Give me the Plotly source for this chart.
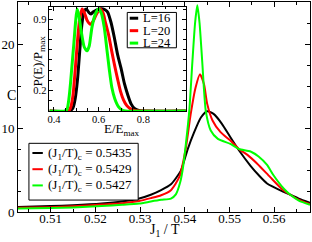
import plotly.graph_objects as go

# ---------------- main panel: specific heat C vs J1/T ----------------
j_l16 = [0.5027, 0.5100, 0.5150, 0.5214, 0.5260, 0.5298, 0.5324, 0.5347, 0.5369, 0.5391,
         0.5406, 0.5421, 0.5436, 0.5450, 0.5465, 0.5483, 0.5502, 0.5521, 0.5547, 0.5565,
         0.5584, 0.5621, 0.5636, 0.5655, 0.5680]
c_l16 = [0.60, 0.70, 0.80, 1.00, 1.25, 1.60, 2.05, 2.60, 3.30, 4.90,
         7.40, 9.50, 11.25, 12.00, 11.65, 10.50, 8.90, 7.35, 5.50, 4.40,
         3.40, 2.40, 2.05, 1.60, 1.10]

j_l20 = [0.5027, 0.5100, 0.5150, 0.5214, 0.5260, 0.5298, 0.5324, 0.5347, 0.5369, 0.5388,
         0.5402, 0.5413, 0.5424, 0.5434, 0.5443, 0.5450, 0.5462, 0.5480, 0.5502, 0.5521,
         0.5540, 0.5562, 0.5591, 0.5617, 0.5636, 0.5655, 0.5680]
c_l20 = [0.50, 0.58, 0.68, 0.88, 1.05, 1.30, 1.65, 2.00, 2.60, 4.20,
         7.50, 11.60, 14.80, 16.40, 15.20, 12.90, 10.90, 9.50, 8.50, 7.50,
         6.80, 5.75, 4.15, 2.75, 2.05, 1.45, 0.95]

j_l24 = [0.5027, 0.5100, 0.5150, 0.5214, 0.5260, 0.5298, 0.5324, 0.5347, 0.5369, 0.5380,
         0.5390, 0.5396, 0.5402, 0.5410, 0.5417, 0.5423, 0.5428, 0.5433, 0.5439, 0.5447,
         0.5458, 0.5474, 0.5502, 0.5521, 0.5547, 0.5565, 0.5584, 0.5598, 0.5621, 0.5636,
         0.5655, 0.5680]
c_l24 = [0.42, 0.48, 0.55, 0.72, 0.85, 1.00, 1.25, 1.45, 1.60, 2.10,
         3.60, 5.30, 7.90, 12.00, 17.90, 22.50, 24.60, 22.50, 17.90, 12.00,
         9.70, 8.70, 8.10, 7.50, 7.20, 6.60, 5.60, 4.40, 2.80, 2.05,
         1.35, 0.85]

main_names = ["(J<sub>1</sub>/T)<sub>c</sub> = 0.5435",
              "(J<sub>1</sub>/T)<sub>c</sub> = 0.5429",
              "(J<sub>1</sub>/T)<sub>c</sub> = 0.5427"]
main_x_ticks = [0.51, 0.52, 0.53, 0.54, 0.55, 0.56]
main_y_ticks = [0, 10, 20]

# ---------------- inset: P(E)/Pmax vs E/Emax ----------------
e_l16 = [0.380, 0.470, 0.485, 0.495, 0.505, 0.515, 0.525, 0.535, 0.545, 0.555,
         0.565, 0.575, 0.590, 0.605, 0.620, 0.630, 0.640, 0.655, 0.670, 0.685,
         0.700, 0.715, 0.730, 0.745, 0.760, 0.780, 0.990]
p_l16 = [0.0, 0.0, 0.03, 0.12, 0.30, 0.58, 0.85, 0.98, 1.00, 0.97,
         0.95, 0.97, 0.99, 1.00, 1.00, 0.99, 0.97, 0.87, 0.72, 0.55,
         0.42, 0.27, 0.16, 0.07, 0.025, 0.005, 0.0]

e_l20 = [0.380, 0.465, 0.474, 0.485, 0.495, 0.505, 0.515, 0.526, 0.535, 0.548,
         0.563, 0.575, 0.590, 0.607, 0.620, 0.629, 0.645, 0.659, 0.672, 0.685,
         0.698, 0.711, 0.725, 0.740, 0.760, 0.990]
p_l20 = [0.0, 0.0, 0.03, 0.15, 0.40, 0.68, 0.90, 1.00, 0.97, 0.89,
         0.85, 0.88, 0.95, 1.00, 0.96, 0.88, 0.74, 0.58, 0.44, 0.31,
         0.19, 0.11, 0.055, 0.025, 0.005, 0.0]

e_l24 = [0.380, 0.450, 0.459, 0.467, 0.474, 0.482, 0.489, 0.497, 0.5035, 0.512,
         0.522, 0.535, 0.548, 0.558, 0.570, 0.585, 0.600, 0.612, 0.625, 0.637,
         0.648, 0.659, 0.672, 0.689, 0.705, 0.720, 0.990]
p_l24 = [0.0, 0.0, 0.02, 0.12, 0.27, 0.48, 0.66, 0.88, 1.00, 0.93,
         0.78, 0.63, 0.59, 0.64, 0.82, 0.95, 1.00, 0.96, 0.82, 0.60,
         0.40, 0.23, 0.12, 0.04, 0.01, 0.0, 0.0]

inset_names = ["L=16", "L=20", "L=24"]
inset_x_ticks = [0.4, 0.6, 0.8]
inset_y_ticks = [0.2, 0.9]

colors = ["#000000", "#ff0000", "#00ff00"]
FONT = "Liberation Serif"

# ---------------- layout geometry (pixels -> paper) ----------------
W, H = 312, 242
ML, MR, MT, MB = 16, 2, 1, 30
PW, PH = W - ML - MR, H - MT - MB


def X(px):
    return (px - ML) / PW


def Y(py):
    return (H - MB - py) / PH


fig = go.Figure()

for jx, cy, col, nm in zip([j_l16, j_l20, j_l24], [c_l16, c_l20, c_l24], colors, main_names):
    fig.add_trace(go.Scatter(x=jx, y=cy, mode="lines", name=nm, showlegend=False,
                             line=dict(color=col, width=2, shape="spline", smoothing=0.6),
                             xaxis="x", yaxis="y"))

for ex, py_, col, nm in zip([e_l16, e_l20, e_l24], [p_l16, p_l20, p_l24], colors, inset_names):
    fig.add_trace(go.Scatter(x=ex, y=py_, mode="lines", name=nm, showlegend=False,
                             line=dict(color=col, width=3, shape="spline", smoothing=0.6),
                             xaxis="x2", yaxis="y2"))

axis_common = dict(showgrid=False, zeroline=False, showline=True, linecolor="black",
                   linewidth=1, mirror="allticks", ticks="inside", tickcolor="black",
                   tickwidth=1)

fig.update_layout(
    width=W, height=H,
    margin=dict(l=ML, r=MR, t=MT, b=MB),
    paper_bgcolor="white", plot_bgcolor="white",
    font=dict(family=FONT, color="black"),
    showlegend=False,
    xaxis=dict(range=[0.5027, 0.568], tickvals=main_x_ticks, tickformat=".2f",
               ticklen=5, ticklabelstandoff=-6,
               tickfont=dict(family=FONT, size=13, color="black"),
               minor=dict(tickmode="linear", tick0=0.5, dtick=0.005, ticklen=3,
                          ticks="inside", tickcolor="black"),
               **axis_common),
    yaxis=dict(range=[0, 25], tickvals=main_y_ticks, ticklen=5,
               tickfont=dict(family=FONT, size=13, color="black"),
               minor=dict(tickmode="linear", tick0=0, dtick=2.5, ticklen=3,
                          ticks="inside", tickcolor="black"),
               **axis_common),
    xaxis2=dict(domain=[X(47.7), X(185)], anchor="y2", range=[0.38, 0.99],
                tickvals=inset_x_ticks, tickformat=".1f", ticklen=4,
                ticklabelstandoff=-2,
                tickfont=dict(family=FONT, size=10.5, color="black"),
                minor=dict(tickmode="linear", tick0=0, dtick=0.05, ticklen=2.5,
                           ticks="inside", tickcolor="black"),
                **axis_common),
    yaxis2=dict(domain=[Y(110.5), Y(6)], anchor="x2", range=[0, 1.02],
                tickvals=inset_y_ticks, tickformat=".1f", ticklen=4,
                tickfont=dict(family=FONT, size=10.5, color="black"),
                minor=dict(tickmode="linear", tick0=0, dtick=0.1, ticklen=2.5,
                           ticks="inside", tickcolor="black"),
                **axis_common),
)

shapes = []
annotations = []

# axis titles
annotations.append(dict(text="C", x=X(9), y=Y(95), xref="paper", yref="paper",
                        showarrow=False, font=dict(size=14), xanchor="center", yanchor="middle"))
annotations.append(dict(text="J<sub>1</sub> / T", x=X(164), y=Y(231), xref="paper", yref="paper",
                        showarrow=False, font=dict(size=14), xanchor="center", yanchor="middle"))
annotations.append(dict(text="E/E<sub>max</sub>", x=X(121), y=Y(129), xref="paper", yref="paper",
                        showarrow=False, font=dict(size=13), xanchor="center", yanchor="middle"))
annotations.append(dict(text="P(E)/P<sub>max</sub>", x=X(37), y=Y(60), xref="paper", yref="paper",
                        showarrow=False, font=dict(size=13), textangle=-90,
                        xanchor="center", yanchor="middle"))

# main legend
shapes.append(dict(type="rect", xref="paper", yref="paper", x0=X(27), x1=X(137),
                   y0=Y(200), y1=Y(143), line=dict(color="black", width=1),
                   fillcolor="white", layer="above"))
for i, (col, nm) in enumerate(zip(colors, main_names)):
    yy = 152.7 + i * 16.3
    shapes.append(dict(type="line", xref="paper", yref="paper", x0=X(30.5), x1=X(41),
                       y0=Y(yy), y1=Y(yy), line=dict(color=col, width=2), layer="above"))
    annotations.append(dict(text=nm, x=X(44), y=Y(yy + 0.5), xref="paper", yref="paper",
                            showarrow=False, font=dict(size=13),
                            xanchor="left", yanchor="middle"))

# inset legend
shapes.append(dict(type="rect", xref="paper", yref="paper", x0=X(126), x1=X(175.5),
                   y0=Y(47), y1=Y(11.5), line=dict(color="black", width=1),
                   fillcolor="white", layer="above"))
for i, (col, nm) in enumerate(zip(colors, inset_names)):
    yy = 17.3 + i * 12.5
    shapes.append(dict(type="line", xref="paper", yref="paper", x0=X(128.5), x1=X(137),
                       y0=Y(yy), y1=Y(yy), line=dict(color=col, width=3), layer="above"))
    annotations.append(dict(text=nm, x=X(139.5), y=Y(yy), xref="paper", yref="paper",
                            showarrow=False, font=dict(size=12.5),
                            xanchor="left", yanchor="middle"))

fig.update_layout(shapes=shapes, annotations=annotations)

fig.write_html("out.html", config={"displayModeBar": False},
               post_script="document.body.style.margin='0px';document.body.style.padding='0px';")
